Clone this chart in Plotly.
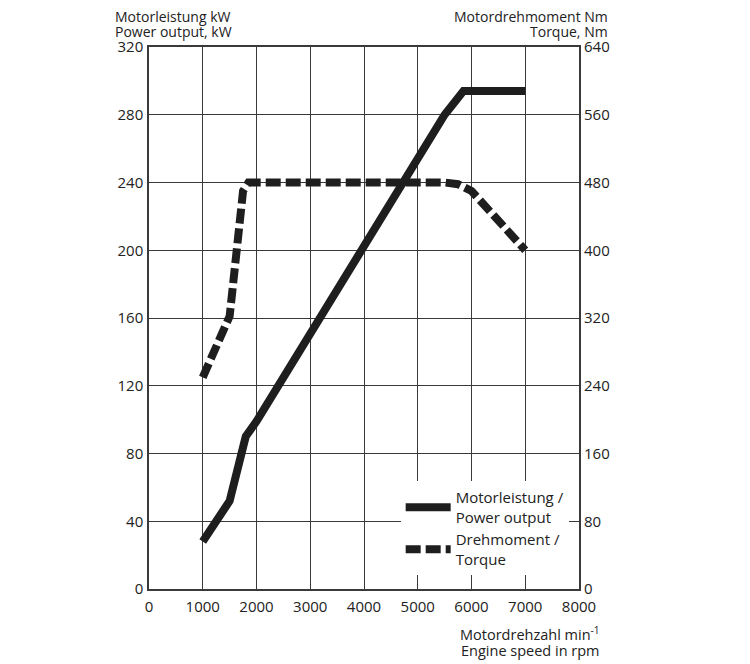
import plotly.graph_objects as go

# engine speed (rpm) and curves
rpm_power = [1000, 1500, 1800, 2000, 5500, 5850, 7000]
power_kw = [28, 52, 90, 99, 280, 294, 294]

rpm_torque = [1000, 1500, 1750, 1850, 5500, 5750, 6000, 7000]
torque_nm = [250, 322, 470, 480, 480, 478, 470, 400]

x_ticks = list(range(0, 8001, 1000))
left_ticks = list(range(0, 321, 40))
right_ticks = list(range(0, 641, 80))

font = "Open Sans"
ink = "#1e1e1e"
grid = "#3a3a3a"

fig = go.Figure()
fig.add_trace(go.Scatter(
    x=rpm_power, y=power_kw, mode="lines",
    name="Motorleistung /<br>Power output",
    line=dict(color=ink, width=8),
))
fig.add_trace(go.Scatter(
    x=rpm_torque, y=torque_nm, mode="lines", yaxis="y2",
    name="Drehmoment /<br>Torque",
    line=dict(color=ink, width=8, dash="15px,5px"),
))


def label(text, x, y, anchor, size=14.5):
    return dict(text=text, xref="paper", yref="paper", x=x, y=y,
                xanchor=anchor, yanchor="middle", align=anchor,
                showarrow=False, font=dict(size=size), borderpad=0)


# the page puts the figure 8px in from the top-left, so margins allow for it
fig.update_layout(
    width=750, height=664,
    margin=dict(l=141, r=179, t=39, b=83),
    paper_bgcolor="white", plot_bgcolor="white",
    font=dict(family=font, size=15, color="#222"),
    xaxis=dict(
        range=[0, 8000], tickvals=x_ticks, showgrid=True,
        gridcolor=grid, gridwidth=1.2, showline=True, linecolor=grid,
        linewidth=1.5, mirror=True, zeroline=False, ticks="", ticklen=0,
        ticklabelstandoff=3,
    ),
    yaxis=dict(
        range=[0, 320], tickvals=left_ticks, showgrid=True,
        gridcolor=grid, gridwidth=1.2, showline=True, linecolor=grid,
        linewidth=1.5, mirror=True, zeroline=False, ticks="",
        ticklabelstandoff=1,
    ),
    yaxis2=dict(
        range=[0, 640], tickvals=right_ticks, overlaying="y", side="right",
        showgrid=False, zeroline=False, showline=False, ticks="",
        ticklabelstandoff=4,
    ),
    legend=dict(
        x=0.976, xanchor="right", y=0.199, yanchor="top",
        bgcolor="white", borderwidth=0,
        font=dict(family=font, size=15, color="#222"),
        tracegroupgap=0, itemwidth=45,
    ),
    annotations=[
        label("Motorleistung kW", -0.081, 1.0565, "left", 14),
        label("Power output, kW", -0.081, 1.0295, "left", 14),
        label("Motordrehmoment Nm", 1.07, 1.0565, "right", 14),
        label("Torque, Nm", 1.07, 1.0295, "right", 14),
        label("Motordrehzahl min<sup>-1</sup>", 1.05, -0.082, "right"),
        label("Engine speed in rpm", 1.05, -0.113, "right"),
    ],
)

fig.write_html("out.html")
